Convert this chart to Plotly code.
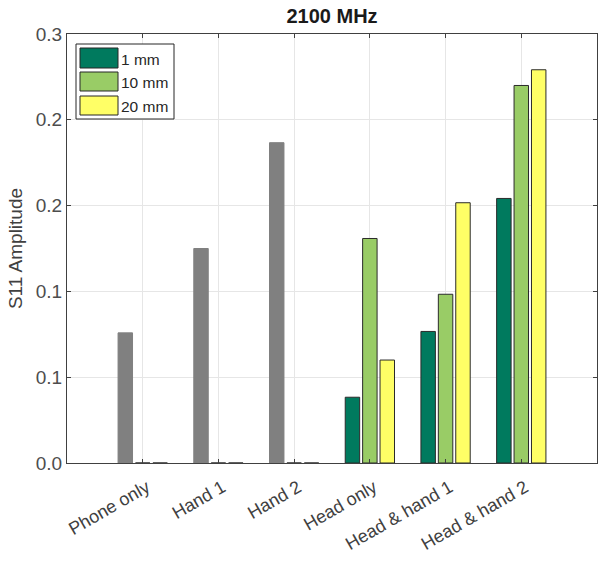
import plotly.graph_objects as go

# S11 amplitude at 2100 MHz for each scenario and distance
categories = ["Phone only", "Hand 1", "Hand 2", "Head only", "Head & hand 1", "Head & hand 2"]
series_names = ["1 mm", "10 mm", "20 mm"]
s11_1mm = [0.091, 0.150, 0.224, 0.046, 0.092, 0.185]
s11_10mm = [0.0, 0.0, 0.0, 0.157, 0.118, 0.264]
s11_20mm = [0.0, 0.0, 0.0, 0.072, 0.182, 0.275]
y_ticks = [0.0, 0.06, 0.12, 0.18, 0.24, 0.30]

colors = ["#007a5e", "#99cc66", "#ffff66"]
gray = "#808080"
edge = "#2b2b2b"

# Scenarios without a head phantom have a single (gray) reference bar
no_head = [c in ("Phone only", "Hand 1", "Hand 2") for c in categories]
first_colors = [gray if nh else colors[0] for nh in no_head]
first_edges = [gray if nh else edge for nh in no_head]

fig = go.Figure()
fig.add_bar(x=categories, y=s11_1mm, name=series_names[0],
            marker=dict(color=first_colors, line=dict(color=first_edges, width=1)))
fig.add_bar(x=categories, y=s11_10mm, name=series_names[1],
            marker=dict(color=colors[1], line=dict(color=edge, width=1)))
fig.add_bar(x=categories, y=s11_20mm, name=series_names[2],
            marker=dict(color=colors[2], line=dict(color=edge, width=1)))

W, H = 598, 568
L, R, T, B = 67, 597, 34, 463


def xd(px):
    return (px - L) / (R - L)


def yd(py):
    return (B - py) / (B - T)


shapes = []
annotations = []
# Legend box with wide swatches
shapes.append(dict(type="rect", xref="x domain", yref="y domain",
                   x0=xd(76), x1=xd(174), y0=yd(119), y1=yd(44),
                   line=dict(color="#262626", width=1), fillcolor="white", layer="above"))
rows = [(48, 68), (72, 91), (96, 115)]
for name, col, (ya, yb) in zip(series_names, colors, rows):
    shapes.append(dict(type="rect", xref="x domain", yref="y domain",
                       x0=xd(80), x1=xd(118), y0=yd(yb), y1=yd(ya),
                       line=dict(color="#262626", width=1), fillcolor=col, layer="above"))
    annotations.append(dict(xref="x domain", yref="y domain", x=xd(119), y=yd((ya + yb) / 2 + 1),
                            text=name, showarrow=False, xanchor="left", yanchor="middle",
                            font=dict(size=15.5, color="#262626")))

fig.update_layout(
    width=W, height=H,
    margin=dict(l=L, r=W - R, t=T, b=H - B),
    paper_bgcolor="white", plot_bgcolor="white",
    font=dict(family="Liberation Sans, Arial, sans-serif", color="#404040"),
    title=dict(text="<b>2100 MHz</b>", x=332 / W, xanchor="center",
               y=1 - 16 / H, yanchor="middle", font=dict(size=20, color="#1a1a1a")),
    barmode="group", bargap=0.31, bargroupgap=0.17,
    showlegend=False,
    shapes=shapes, annotations=annotations,
)
fig.update_xaxes(
    range=[-1, 6], tickangle=-30, tickfont=dict(size=18, color="#404040"),
    ticklabelstandoff=6, ticklabelshift=4,
    showgrid=True, gridcolor="#e6e6e6", gridwidth=1,
    showline=True, linecolor="#404040", linewidth=1, mirror="allticks",
    ticks="inside", ticklen=4, tickcolor="#404040",
)
fig.update_yaxes(
    range=[0, 0.3], tickvals=y_ticks, tickformat=".1f",
    tickfont=dict(size=19, color="#4d4d4d"),
    title=dict(text="S11 Amplitude", font=dict(size=19, color="#404040"), standoff=8),
    showgrid=True, gridcolor="#e6e6e6", gridwidth=1, zeroline=False,
    showline=True, linecolor="#404040", linewidth=1, mirror="allticks",
    ticks="inside", ticklen=4, tickcolor="#404040",
)

fig.write_html("out.html")
